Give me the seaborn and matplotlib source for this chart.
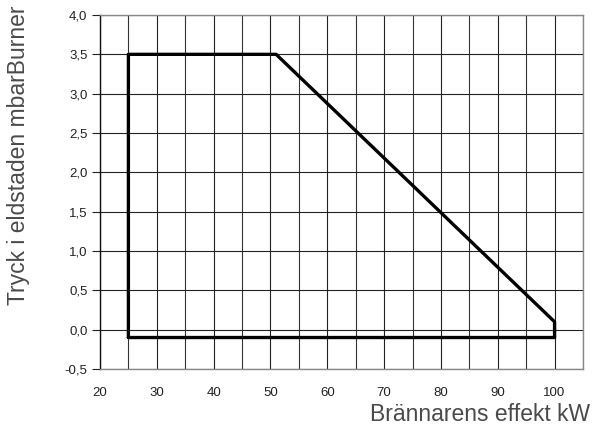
import matplotlib
matplotlib.use("Agg")
import matplotlib.pyplot as plt
import seaborn as sns
import numpy as np
import pandas as pd
from matplotlib.ticker import FuncFormatter, MultipleLocator

# === Data: working field outline (closed polygon) ===
effekt_kw = [25, 25, 51, 100, 100, 25]
tryck_mbar = [-0.1, 3.5, 3.5, 0.1, -0.1, -0.1]

x_ticks = [20, 30, 40, 50, 60, 70, 80, 90, 100]
y_ticks = [-0.5, 0.0, 0.5, 1.0, 1.5, 2.0, 2.5, 3.0, 3.5, 4.0]

df = pd.DataFrame({"effekt": effekt_kw, "tryck": tryck_mbar})

sns.set_style("white")
plt.rcParams["font.family"] = ["Liberation Sans", "DejaVu Sans"]

fig = plt.figure(figsize=(5.93, 4.30), dpi=100)
ax = fig.add_axes([0.1686, 0.1419, 0.8145, 0.8232])

sns.lineplot(data=df, x="effekt", y="tryck", sort=False, estimator=None,
             color="black", linewidth=2.4, ax=ax)

ax.set_xlim(20, 105)
ax.set_ylim(-0.5, 4.0)
ax.set_xticks(x_ticks)
ax.set_yticks(y_ticks)
ax.xaxis.set_minor_locator(MultipleLocator(5))
ax.yaxis.set_major_formatter(FuncFormatter(lambda v, p: f"{v:.1f}".replace(".", ",")))

ax.grid(True, which="major", color="#222222", linewidth=0.8)
ax.grid(True, which="minor", axis="x", color="#333333", linewidth=0.8)
ax.set_axisbelow(True)

for side in ["top", "right", "bottom"]:
    ax.spines[side].set_color("#888888")
    ax.spines[side].set_linewidth(1.0)
ax.spines["left"].set_color("#111111")
ax.spines["left"].set_linewidth(1.0)

ax.tick_params(axis="y", which="major", direction="out", length=6, width=0.8,
               left=True, labelsize=9.5, colors="#222222", pad=3)
ax.tick_params(axis="x", which="both", length=0, labelsize=9.5, colors="#222222", pad=13)

label_font = dict(fontsize=16.5, color="#4a4a4a")
ax.set_xlabel("Brännarens effekt kW", loc="right", **label_font)
ax.set_ylabel("Tryck i eldstaden mbarBurner", loc="top", **label_font)
ax.xaxis.set_label_coords(1.015, -0.095)
ax.yaxis.set_label_coords(-0.145, 1.028)

fig.savefig("out.png", dpi=100)
